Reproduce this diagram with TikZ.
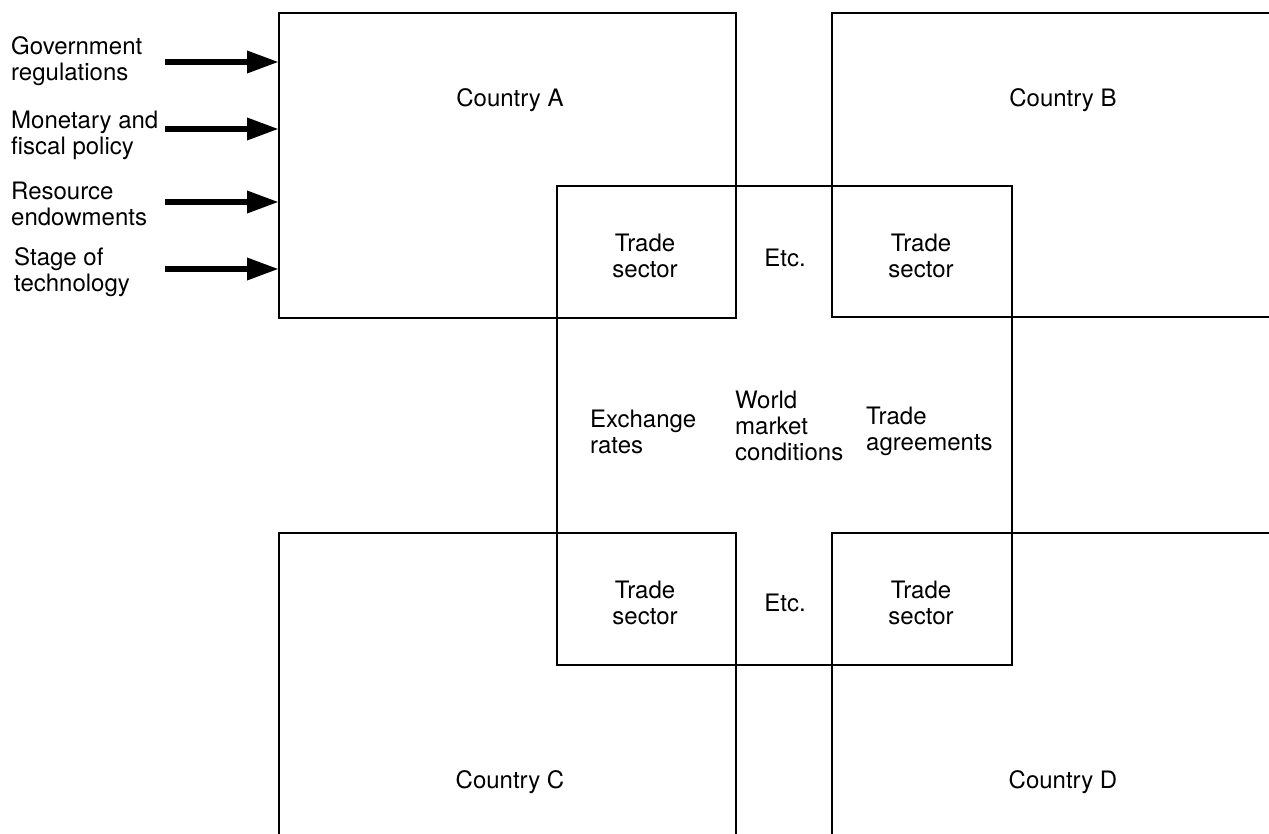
\documentclass[tikz,border=0pt]{standalone}
\usepackage{fontspec}
\setmainfont{TeX Gyre Heros}
\usetikzlibrary{arrows.meta}
\begin{document}
\begin{tikzpicture}[x=1pt,y=-1pt,
  every node/.style={font=\fontsize{24}{26}\selectfont, inner sep=0pt},
  frame/.style={line width=1.8pt, line cap=rect},
  lbl/.style={align=left, anchor=west},
  push/.style={line width=6.5pt, -{Triangle[length=32pt,width=21pt]}},
]
\useasboundingbox (0,0) rectangle (1269,834);

% country frames (B open to the right, C and D open at the bottom)
\draw[frame] (279,13) rectangle (736,318);
\draw[frame] (1269,13) -- (832,13) -- (832,317) -- (1269,317);
\draw[frame] (279,834) -- (279,533) -- (736,533) -- (736,834);
\draw[frame] (832,834) -- (832,533) -- (1269,533);

% central world market box
\draw[frame] (557,186) rectangle (1012,665);

% left edge of country A, where the inputs arrive
\coordinate (A) at (279,165);

% texts
\node (cA) at (510,100) {Country A};
\node (cB) at (1063,100) {Country B};
\node (cC) at (510,782) {Country C};
\node (cD) at (1063,782) {Country D};

\node[align=center] (tsA) at (645,256) {Trade\\sector};
\node[align=center] (tsB) at (921,256) {Trade\\sector};
\node[align=center] (tsC) at (645,603) {Trade\\sector};
\node[align=center] (tsD) at (921,603) {Trade\\sector};
\node (etc1) at (785,258) {Etc.};
\node (etc2) at (785,603) {Etc.};

\node[lbl] (ex) at (590,432) {Exchange\\rates};
\node[lbl] (wm) at (735,426) {World\\market\\conditions};
\node[lbl] (ta) at (866,431) {Trade\\agreements};

% external influences
\node[lbl] (gov) at (11,61) {Government\\regulations};
\node[lbl] (mon) at (11,135) {Monetary and\\fiscal policy};
\node[lbl] (res) at (11,204) {Resource\\endowments};
\node[lbl] (stg) at (14,272) {Stage of\\technology};

\coordinate (gTip) at (A |- 0,62);
\coordinate (mTip) at (A |- 0,129);
\coordinate (rTip) at (A |- 0,202);
\coordinate (sTip) at (A |- 0,269);

\draw[push] (165,62) -- (gTip);
\draw[push] (165,129) -- (mTip);
\draw[push] (165,202) -- (rTip);
\draw[push] (165,269) -- (sTip);
\end{tikzpicture}
\end{document}
